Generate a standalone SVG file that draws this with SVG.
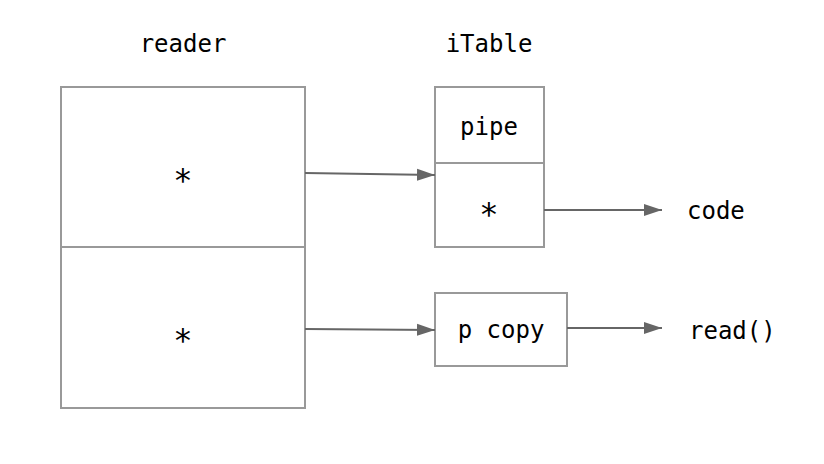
<svg xmlns="http://www.w3.org/2000/svg" width="824" height="464" viewBox="0 0 824 464">
<style>
.box{fill:#fff;stroke:#999;stroke-width:2}
.div{stroke:#999;stroke-width:2}
text{font-family:"DejaVu Sans Mono","Liberation Mono",monospace;font-size:24px;fill:#000}
.c{text-anchor:middle}
.st{font-size:32px}
.ar{stroke:#666;stroke-width:2;fill:none;marker-end:url(#ah)}
</style>
<defs>
<marker id="ah" markerWidth="18" markerHeight="14" refX="18" refY="7" orient="auto" markerUnits="userSpaceOnUse" viewBox="0 0 18 14">
<path d="M0,1 L18,7 L0,13 Z" fill="#666"/>
</marker>
</defs>
<rect width="824" height="464" fill="#fff"/>
<g id="reader">
<text class="c" x="183" y="52">reader</text>
<rect class="box" x="61" y="87" width="244" height="321"/>
<line class="div" x1="61" y1="247" x2="305" y2="247"/>
<text class="c st" x="183" y="191">*</text>
<text class="c st" x="183" y="351">*</text>
</g>
<g id="iTable">
<text class="c" x="489" y="52">iTable</text>
<rect class="box" x="435" y="87" width="109" height="160"/>
<line class="div" x1="435" y1="163" x2="544" y2="163"/>
<text class="c" x="489" y="135">pipe</text>
<text class="c st" x="489" y="225">*</text>
</g>
<g id="pcopy">
<rect class="box" x="435" y="293" width="132" height="73"/>
<text class="c" x="501" y="338">p copy</text>
</g>
<g id="code"><text x="687" y="219">code</text></g>
<g id="read"><text x="689" y="339">read()</text></g>
<g id="connectors">
<path class="ar" d="M305,173 L435,175"/>
<path class="ar" d="M544,210 L662,210"/>
<path class="ar" d="M305,329 L435,330"/>
<path class="ar" d="M567,328 L662,328"/>
</g>
</svg>
